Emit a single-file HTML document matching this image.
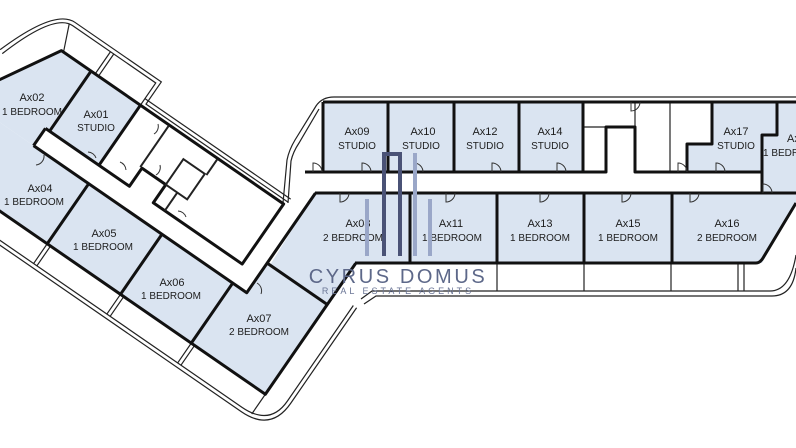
<!DOCTYPE html>
<html><head><meta charset="utf-8"><style>
html,body{margin:0;padding:0;background:#fff;}
svg{display:block;}
text{font-family:"Liberation Sans",sans-serif;fill:#1d1d1d;text-anchor:middle;}
.n{font-size:11px;}
.t{font-size:10px;}
</style></head><body>
<svg width="796" height="448" viewBox="0 0 796 448" xmlns="http://www.w3.org/2000/svg">
<g fill="#dae4f1" stroke="none">
  <g transform="translate(50,157) rotate(34.6)">
    <rect x="-140" y="0" width="362" height="73"/>
    <polygon points="222,0 239,0 239,-36 312,-36 312,73 222,73"/>
    <rect x="-15" y="-93" width="60" height="72"/>
    <polygon points="-51,-93 -15,-93 -15,-21 -20,-21 -20,0 -140,0 -140,-35 -85,-35"/>
  </g>
  <polygon points="315,193 410,193 410,263 355,263 328,305 270,265"/>
  <rect x="323" y="102" width="260" height="70"/>
  <polygon points="712,102 777,102 777,135 762,135 762,172 687,172 687,144 712,144"/>
  <polygon points="777,102 796,102 796,193 762,193 762,135 777,135"/>
  <rect x="410" y="193" width="262" height="70"/>
  <polygon points="672,193 796,193 796,203 762,263 672,263"/>
</g>

<g fill="none" stroke="#222" stroke-width="1.2">
  <g transform="translate(50,157) rotate(34.6)">
    <path d="M-140,97 L300,97 Q334,97 334,66 L334,-50"/>
    <path d="M-140,101 L302,101 Q338,101 338,66 L338,-50"/>
    <path d="M47,73 L47,97 M51,73 L51,97 M136,73 L136,97 M140,73 L140,97 M222,73 L222,97 M226,73 L226,97 M312,73 L312,97"/>
    <path d="M-102,-60 Q-80,-125 -56,-125 L49,-125 L49,-98 L222,-98"/>
    <path d="M-98,-58 Q-78,-121 -56,-121 L45,-121 L45,-93"/>
    <path d="M45,-102 L222,-102"/>
    <path d="M-10,-121 L-10,-93 M-6,-121 L-6,-93 M-60,-121 L-48,-93"/>
  </g>
  <path d="M283,203 L287,160 Q289,150 295,140 L316,106 Q322,97 334,97 L796,97"/>
  <path d="M288,203 L291,161 Q293,152 299,143 L319,109"/>
  <path d="M361,299 L372,291 L770,291 Q790,291 796,255"/>
  <path d="M364,304 L376,296 L772,296 Q793,296 796,268"/>
  <path d="M497,263 V291 M584,263 V291 M671,263 V291 M738,263 V291 M744,263 V291"/>
  <path d="M583,127 H606 M635,102 V127 M670,102 V172"/>
</g>

<g fill="none" stroke="#111" stroke-width="3" stroke-linejoin="round">
  <g transform="translate(50,157) rotate(34.6)">
    <path d="M-20,0 L239,0 L239,-121"/>
    <path d="M47,0 V73 M136,0 V73 M222,0 V73"/>
    <path d="M-140,73 L312,73 L312,-86"/>
    <path d="M239,-36 L312,-36"/>
    <path d="M-20,-21 L82,-21 L82,-43 L111,-43 L111,-21 L219,-21 L219,-94 L-51,-94 L-100,-10"/>
    <path d="M-15,-94 V-21 M45,-94 V-21"/>
    <path d="M-20,0 V-21"/>
  </g>
  <path d="M323,102 H796 M323,102 V172"/>
  <path d="M388,102 V172 M454,102 V172 M519,102 V172 M583,102 V172"/>
  <path d="M305,172 H606 V127 H635 V172 H687 V144 H712 V102"/>
  <path d="M687,172 H762 V135 H777 V102 M762,172 V193"/>
  <path d="M315,193 H796"/>
  <path d="M410,193 V263 M497,193 V263 M584,193 V263 M672,193 V263"/>
  <path d="M355,263 H756 Q760,263 763,258 L796,203"/>
</g>
<g fill="none" stroke="#222" stroke-width="2">
  <g transform="translate(50,157) rotate(34.6)">
    <path d="M80,-93 V-43"/>
    <path d="M111,-74 H137 V-43 H111 Z"/>
    <path d="M139,-93 V-74"/>
    <path d="M125,-43 V-21"/>
  </g>
</g>

<g fill="none" stroke="#333" stroke-width="1">
  <path d="M362,172 v-9 a9,9 0 0 1 9,9"/>
  <path d="M414,172 v-9 a9,9 0 0 1 9,9"/>
  <path d="M492,172 v-9 a9,9 0 0 1 9,9"/>
  <path d="M557,172 v-9 a9,9 0 0 1 9,9"/>
  <path d="M313,172 v-9 a9,9 0 0 1 9,9"/>
  <path d="M678,172 v-9 a9,9 0 0 1 9,9"/>
  <path d="M716,172 v-9 a9,9 0 0 1 9,9"/>
  <path d="M763,193 v-9 a9,9 0 0 1 9,9"/>
  <path d="M631,102 v9 a9,9 0 0 0 9,-9"/>
  <path d="M340,193 v9 a9,9 0 0 0 9,-9"/>
  <path d="M446,193 v9 a9,9 0 0 0 9,-9"/>
  <path d="M540,193 v9 a9,9 0 0 0 9,-9"/>
  <path d="M622,193 v9 a9,9 0 0 0 9,-9"/>
  <path d="M690,193 v9 a9,9 0 0 0 9,-9"/>
  <path d="M257,283 a9,9 0 0 1 4,11"/>
  <path d="M178,211 a9,9 0 0 1 8,6"/>
  <path d="M120,162 a9,9 0 0 1 6,8"/>
  <path d="M44,155 a9,9 0 0 1 -8,10"/>
  <path d="M88,152 a9,9 0 0 1 8,6"/>
  <path d="M160,165 a9,9 0 0 1 -4,10"/>
  <path d="M158,124 a9,9 0 0 1 -4,10"/>
</g>

<text class="n" x="32" y="101">Ax02</text><text x="62" y="115" class="t" style="text-anchor:end">1 BEDROOM</text>
<text class="n" x="96" y="118">Ax01</text><text class="t" x="96" y="131">STUDIO</text>
<text class="n" x="40" y="192">Ax04</text><text class="t" x="34" y="205">1 BEDROOM</text>
<text class="n" x="104" y="237">Ax05</text><text class="t" x="103" y="250">1 BEDROOM</text>
<text class="n" x="172" y="286">Ax06</text><text class="t" x="171" y="299">1 BEDROOM</text>
<text class="n" x="259" y="322">Ax07</text><text class="t" x="259" y="335">2 BEDROOM</text>
<text class="n" x="358" y="227">Ax08</text><text class="t" x="353" y="241">2 BEDROOM</text>
<text class="n" x="357" y="135">Ax09</text><text class="t" x="357" y="149">STUDIO</text>
<text class="n" x="423" y="135">Ax10</text><text class="t" x="421" y="149">STUDIO</text>
<text class="n" x="485" y="135">Ax12</text><text class="t" x="485" y="149">STUDIO</text>
<text class="n" x="550" y="135">Ax14</text><text class="t" x="550" y="149">STUDIO</text>
<text class="n" x="736" y="135">Ax17</text><text class="t" x="736" y="149">STUDIO</text>
<text class="n" x="787" y="142" style="text-anchor:start">Ax18</text><text class="t" x="763" y="156" style="text-anchor:start">1 BEDROOM</text>
<text class="n" x="451" y="227">Ax11</text><text class="t" x="452" y="241">1 BEDROOM</text>
<text class="n" x="540" y="227">Ax13</text><text class="t" x="540" y="241">1 BEDROOM</text>
<text class="n" x="628" y="227">Ax15</text><text class="t" x="628" y="241">1 BEDROOM</text>
<text class="n" x="727" y="227">Ax16</text><text class="t" x="727" y="241">2 BEDROOM</text>

<g>
  <rect x="365" y="199" width="4" height="57" fill="#9aa7c8"/>
  <rect x="428" y="199" width="4" height="57" fill="#9aa7c8"/>
  <rect x="413" y="153" width="4" height="103" fill="#9aa7c8"/>
  <path d="M384,256 V154 H400 V256" fill="none" stroke="#4a5276" stroke-width="4"/>
  <text x="398" y="283" style="font-size:20px;letter-spacing:2.6px;fill:#5d6889;">CYRUS DOMUS</text>
  <text x="398" y="294" style="font-size:9px;letter-spacing:3px;fill:#6b7696;">REAL ESTATE AGENTS</text>
</g>
</svg>
</body></html>
